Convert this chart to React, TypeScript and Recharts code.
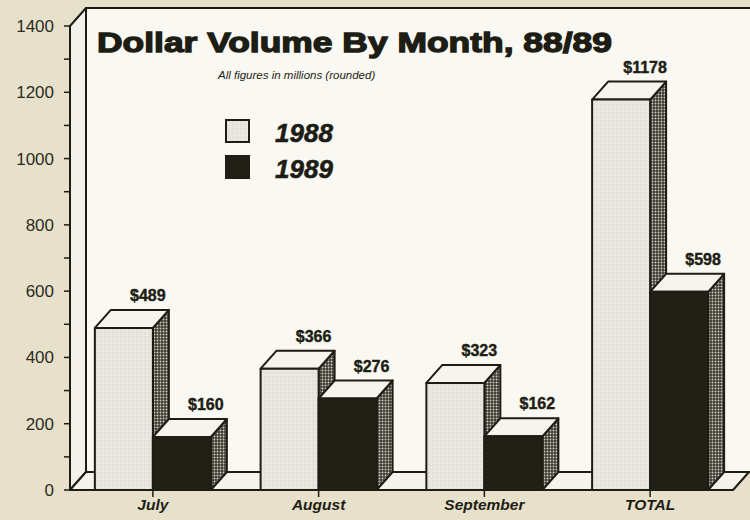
import React from 'react';
import { BarChart, Bar, XAxis, YAxis, ReferenceArea, LabelList } from 'recharts';

const categories = ['July', 'August', 'September', 'TOTAL'];
const volume1988 = [489, 366, 323, 1178];
const volume1989 = [160, 276, 162, 598];
const seriesNames = ['1988', '1989'];
const yTicks = [0, 100, 200, 300, 400, 500, 600, 700, 800, 900, 1000, 1100, 1200, 1300, 1400];
const titleText = 'Dollar Volume By Month, 88/89';
const subtitleText = 'All figures in millions (rounded)';

const data = categories.map((c, i) => ({ month: c, y1988: volume1988[i], y1989: volume1989[i] }));

const DX = 16;
const DY = 18;
const INK = '#1d1d14';
const FONT = '"Liberation Sans", Arial, Helvetica, sans-serif';

function Bar3D(props: any) {
  const { x, y, width, height, front } = props;
  if (width == null || height == null) return null;
  const b = y + height;
  const r = x + width;
  return (
    <g stroke={INK} strokeWidth={2} strokeLinejoin="round">
      <polygon points={`${r},${y} ${r + DX},${y - DY} ${r + DX},${b - DY} ${r},${b}`} fill="url(#sideDots)" />
      <polygon points={`${x},${y} ${x + DX},${y - DY} ${r + DX},${y - DY} ${r},${y}`} fill="#f5f4ee" />
      <rect x={x} y={y} width={width} height={height} fill={front} />
    </g>
  );
}

function Wall(props: any) {
  const { x, y, width, height } = props;
  const b = y + height;
  const r = x + width;
  return (
    <g stroke={INK} strokeWidth={2} strokeLinejoin="round">
      <rect x={x + DX} y={y - DY} width={width + 40} height={height} fill="#f9f8f2" />
      <polygon points={`${x},${y} ${x + DX},${y - DY} ${x + DX},${b - DY} ${x},${b}`} fill="#f3f2ea" />
      <polygon points={`${x},${b} ${x + DX},${b - DY} ${r + DX},${b - DY} ${r},${b}`} fill="#f4f3ec" />
    </g>
  );
}

function ValueLabel(props: any) {
  const { x, y, width, value } = props;
  return (
    <text
      x={x + width / 2 + DX + 8}
      y={y - DY - 9}
      textAnchor="middle"
      fontFamily={FONT}
      fontWeight="bold"
      fontSize={16}
      fill={INK}
      stroke={INK}
      strokeWidth={0.4}
    >
      {`$${value}`}
    </text>
  );
}

export default function App() {
  return (
    <div style={{ position: 'absolute', left: 0, top: 0, width: 750, height: 520, background: '#e7e1cb', overflow: 'hidden' }}>
      <svg width={0} height={0} style={{ position: 'absolute' }}>
        <defs>
          <pattern id="sideDots" width={3} height={3} patternUnits="userSpaceOnUse">
            <rect width={3} height={3} fill="#3b3b31" />
            <circle cx={1.5} cy={1.5} r={0.95} fill="#cfcdc3" />
          </pattern>
          <pattern id="front88" width={4} height={4} patternUnits="userSpaceOnUse">
            <rect width={4} height={4} fill="#e9e7df" />
            <circle cx={1} cy={1} r={0.6} fill="#c4c2b8" />
          </pattern>
        </defs>
      </svg>
      <BarChart
        width={750}
        height={520}
        data={data}
        margin={{ top: 26, right: 17, bottom: 0, left: 10 }}
        barCategoryGap="15%"
        barGap={0}
      >
        <ReferenceArea y1={0} y2={1400} ifOverflow="visible" shape={<Wall />} />
        <XAxis
          dataKey="month"
          height={30}
          tickSize={7}
          tickMargin={2}
          axisLine={{ stroke: INK, strokeWidth: 2 }}
          tickLine={{ stroke: INK, strokeWidth: 1.5 }}
          tick={{ fill: INK, fontFamily: FONT, fontWeight: 'bold', fontStyle: 'italic', fontSize: 15.5 }}
        />
        <YAxis
          width={60}
          domain={[0, 1400]}
          ticks={yTicks}
          interval={0}
          tickSize={6}
          tickMargin={10}
          tickFormatter={(v: number) => (v % 200 === 0 ? String(v) : '')}
          axisLine={{ stroke: INK, strokeWidth: 2 }}
          tickLine={{ stroke: INK, strokeWidth: 1.5 }}
          tick={{ fill: '#2b2b22', fontFamily: FONT, fontSize: 17 }}
        />
        <Bar
          dataKey="y1988"
          name={seriesNames[0]}
          isAnimationActive={false}
          shape={(p: any) => <Bar3D {...p} front="url(#front88)" />}
        >
          <LabelList dataKey="y1988" content={<ValueLabel />} />
        </Bar>
        <Bar
          dataKey="y1989"
          name={seriesNames[1]}
          isAnimationActive={false}
          shape={(p: any) => <Bar3D {...p} front="#202017" />}
        >
          <LabelList dataKey="y1989" content={<ValueLabel />} />
        </Bar>
      </BarChart>
      <svg width={750} height={520} style={{ position: 'absolute', left: 0, top: 0, pointerEvents: 'none' }}>
        <text x={97} y={52} fontFamily={FONT} fontWeight="bold" fontSize={28} fill={INK} stroke={INK} strokeWidth={1.3} textLength={515} lengthAdjust="spacingAndGlyphs">
          {titleText}
        </text>
        <text x={218} y={79} fontFamily={FONT} fontStyle="italic" fontSize={11.5} fill={INK}>
          {subtitleText}
        </text>
        <rect x={226} y={120} width={23} height={22} fill="url(#front88)" stroke={INK} strokeWidth={2} />
        <text x={275} y={142} fontFamily={FONT} fontWeight="bold" fontStyle="italic" fontSize={26} fill={INK} stroke={INK} strokeWidth={0.6}>
          {seriesNames[0]}
        </text>
        <rect x={226} y={156} width={23} height={22} fill="#202017" stroke={INK} strokeWidth={2} />
        <text x={275} y={178} fontFamily={FONT} fontWeight="bold" fontStyle="italic" fontSize={26} fill={INK} stroke={INK} strokeWidth={0.6}>
          {seriesNames[1]}
        </text>
      </svg>
    </div>
  );
}
